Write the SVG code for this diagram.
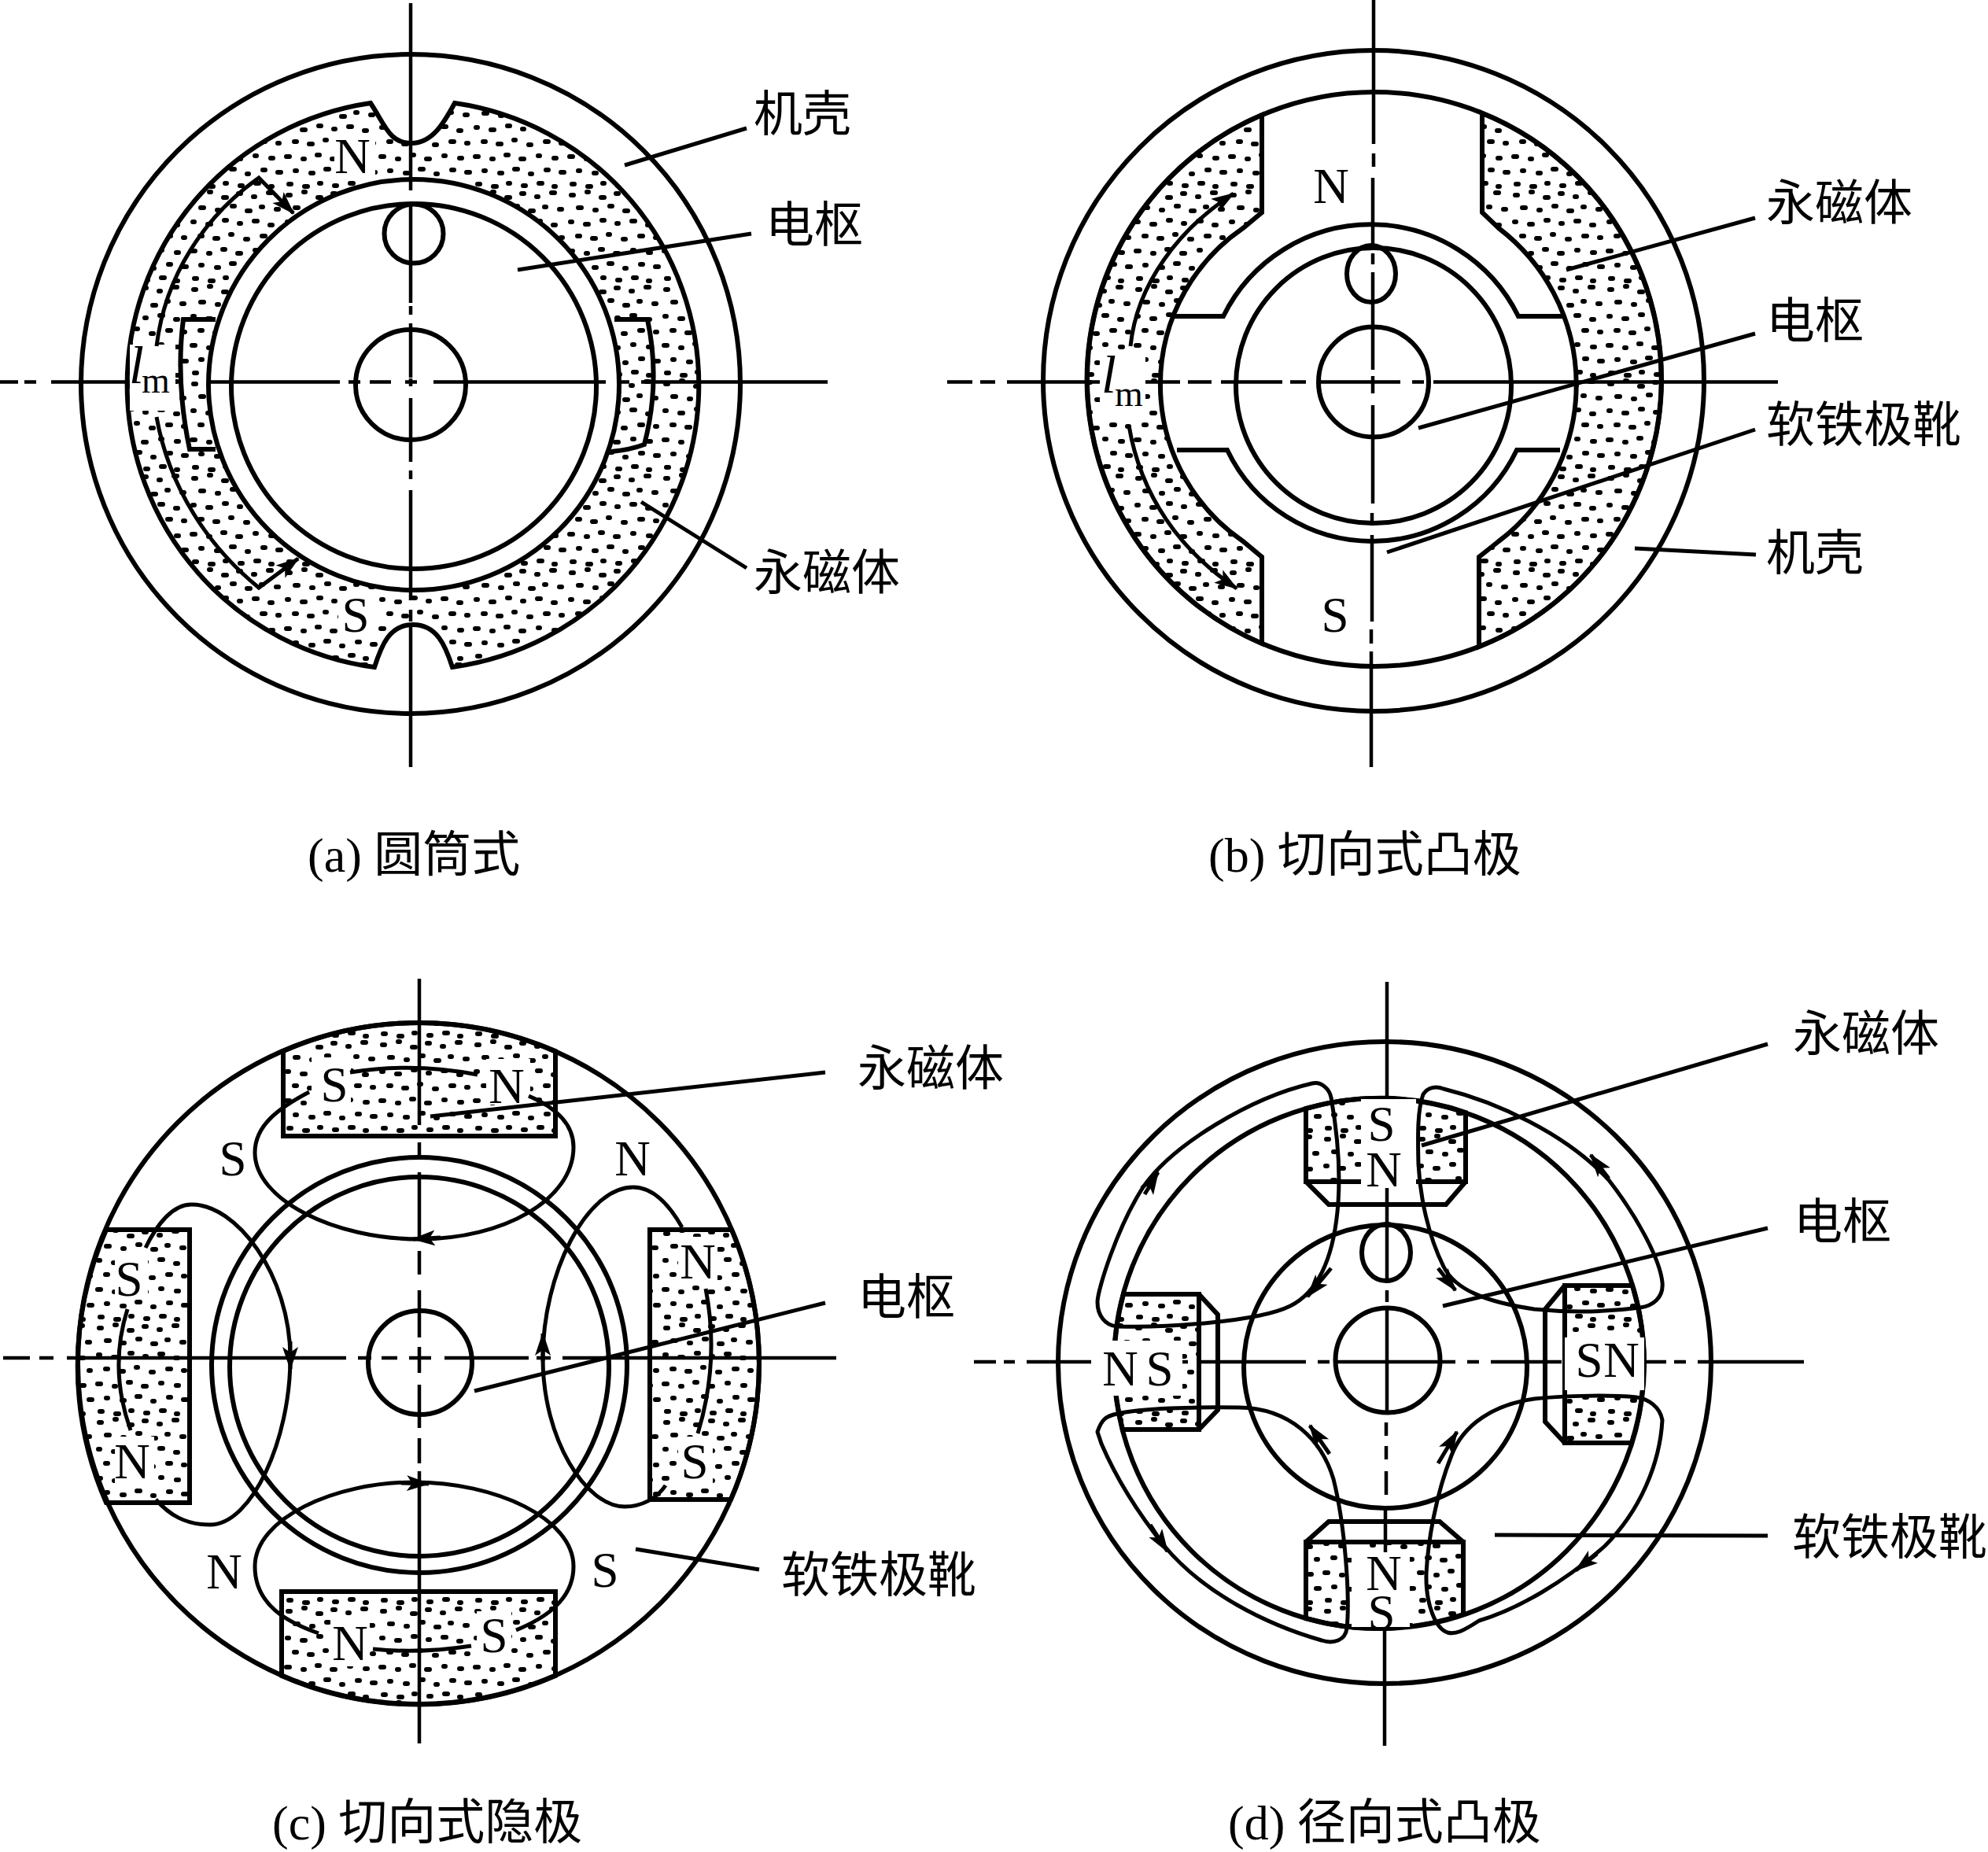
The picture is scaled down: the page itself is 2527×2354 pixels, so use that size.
<svg xmlns="http://www.w3.org/2000/svg" width="2527" height="2354" viewBox="0 0 2527 2354">
<style>
.l{fill:none;stroke:#000;stroke-width:6}
.t{fill:none;stroke:#000;stroke-width:5}
.c{fill:none;stroke:#000;stroke-width:4.500}
.s{fill:url(#dots);stroke:#000;stroke-width:6;fill-rule:evenodd}
.w{fill:#fff;stroke:none}
.lb{font-family:"Liberation Serif","Noto Sans CJK SC",serif;font-size:62px;fill:#000}
.p{font-family:"Liberation Serif",serif;font-size:63px;fill:#000;text-anchor:middle}
.i{font-style:italic;font-size:68px}
.m{font-size:46px}
</style>
<defs>
<pattern id="dots" width="120" height="120" patternUnits="userSpaceOnUse">
<path fill="none" stroke="#000" stroke-width="6" stroke-linecap="round" d="M6 8h3M26 4h2M44 11h4M63 6h3M82 10h2M101 5h4M15 24h4M36 27h2M55 22h3M74 28h4M92 23h2M111 26h3M5 42h2M24 45h4M45 40h3M64 44h2M83 41h4M103 46h3M14 60h3M33 63h4M53 58h2M72 64h3M93 60h4M113 62h2M4 79h4M25 82h2M43 77h3M62 82h4M84 78h2M104 81h3M15 97h2M35 100h3M54 95h4M74 101h2M94 96h3M113 99h4M7 114h3M27 117h4M46 113h2M65 116h3M85 113h4M104 117h2"/>
</pattern>
<marker id="a" markerUnits="userSpaceOnUse" markerWidth="32" markerHeight="24" refX="28" refY="10" orient="auto"><path d="M0 0L30 10L0 20L7 10Z" fill="#000"/></marker>
</defs>
<rect width="2527" height="2354" fill="#fff"/>

<g id="fig-a">
<circle class="l" cx="522" cy="488" r="419"/>
<path id="a-magnet" class="s" d="M578,131A362,362 0 0 1 575,848C566,820 555,794 525,794C495,794 485,820 476,848A362,362 0 0 1 471,131C490,160 495,182 523,182C550,182 565,155 578,131ZM265,489A261,261 0 1 0 787,489A261,261 0 1 0 265,489Z"/>
<circle class="l" cx="526" cy="491" r="232"/>
<circle class="l" cx="522" cy="489" r="70"/>
<circle class="l" cx="526" cy="297" r="37.5"/>
<path class="l" d="M274,406H233Q223,485 241,571H274M781,406H823Q840,485 819,565Q800,572 777,574"/>
<path class="c" d="M522,4V242M522,258V385M522,389V400M522,411V480M522,481V491M522,506V587M522,598V609M522,623V763M522,775V790M522,794V975M0,485.5H23M31,485.5H46M65,485.5H165M268,485.5H432M443,485.5H458M470,485.5H497M515,485.5H530M551,485.5H770M785,485.5H800M815,485.5H1052"/>
<rect class="w" x="425" y="176" width="52" height="52"/>
<rect class="w" x="430" y="752" width="48" height="56"/>
<rect class="w" x="165" y="438" width="58" height="84"/>
<text class="p" x="448" y="220">N</text>
<text class="p" x="452" y="803">S</text>
<text class="p" style="text-anchor:start"><tspan class="i" x="164" y="487">l</tspan><tspan class="m" x="180" y="499">m</tspan></text>
<text class="lb" x="958" y="167">机壳</text>
<text class="lb" x="973" y="308">电枢</text>
<text class="lb" x="958" y="750">永磁体</text>
<text class="lb" x="391" y="1108">(a) 圆筒式</text>
</g>

<g id="fig-b">
<circle class="l" cx="1746" cy="484" r="420"/>
<circle class="l" cx="1747" cy="482" r="365"/>
<path id="b-magnet-l" class="s" d="M1604,146V270L1580,290A241,241 0 0 0 1580,688L1604,708V818A365,365 0 0 1 1604,146Z"/>
<path id="b-magnet-r" class="s" d="M1884,144V270L1905,290A250,250 0 0 1 1905,688L1880,708V822A365,365 0 0 0 1884,144Z"/>
<circle class="l" cx="1746" cy="490" r="175"/>
<path class="l" d="M1491,402H1555A209,209 0 0 1 1930,402H1988M1496,572H1560A204,204 0 0 0 1928,572H1983"/>
<circle class="l" cx="1746" cy="485.500" r="70"/>
<ellipse class="l" cx="1743" cy="348" rx="31" ry="36"/>
<path class="c" d="M1746,0V183M1746,195V212M1745,226V310M1745,322V336M1745,346V470M1745,478V500M1745,515V640M1744,652V668M1744,680V790M1743,800V818M1743,828V975M1204,485.5H1236M1246,485.5H1265M1280,485.5H1500M1510,485.5H1540M1552,485.5H1630M1640,485.5H1660M1675,485.5H1780M1795,485.5H1810M1822,485.5H2260"/>
<rect class="w" x="1398" y="445" width="58" height="84"/>
<text class="p" x="1692" y="258">N</text>
<text class="p" x="1697" y="803">S</text>
<text class="p" style="text-anchor:start"><tspan class="i" x="1400" y="499">l</tspan><tspan class="m" x="1417" y="516">m</tspan></text>
<text class="lb" x="2245" y="280">永磁体</text>
<text class="lb" x="2245" y="430">电枢</text>
<text class="lb" x="2245" y="562">软铁极靴</text>
<text class="lb" x="2245" y="725">机壳</text>
<text class="lb" x="1536" y="1108">(b) 切向式凸极</text>
</g>

<g id="fig-c">
<circle class="l" cx="532" cy="1733" r="433"/>
<path id="c-magnet-t" class="s" d="M360,1336A433,433 0 0 1 706,1336V1444H360Z"/>
<path id="c-magnet-b" class="s" d="M358,2023H706V2130A433,433 0 0 1 358,2130Z"/>
<path id="c-magnet-l" class="s" d="M135,1563H241V1910H135A433,433 0 0 1 135,1563Z"/>
<path id="c-magnet-r" class="s" d="M826,1563H930A433,433 0 0 1 929,1906H826Z"/>
<circle class="l" cx="533" cy="1735" r="264"/>
<circle class="l" cx="533" cy="1737" r="241"/>
<circle class="l" cx="534" cy="1732" r="66"/>
<path class="c" d="M533,1244V1430M533,1452V1470M533,1490V1575M533,1590V1620M533,1640V1700M533,1712V1745M533,1760V1815M533,1828V1860M533,1870V2216M4,1726H38M50,1726H68M85,1726H440M455,1726H472M485,1726H505M520,1726H548M565,1726H672M682,1726H700M715,1726H1063"/>
<rect class="w" x="396" y="1344" width="50" height="62"/>
<rect class="w" x="618" y="1346" width="56" height="58"/>
<rect class="w" x="146" y="1590" width="42" height="58"/>
<rect class="w" x="862" y="1572" width="50" height="60"/>
<rect class="w" x="146" y="1826" width="50" height="60"/>
<rect class="w" x="862" y="1826" width="44" height="60"/>
<rect class="w" x="420" y="2060" width="50" height="58"/>
<rect class="w" x="606" y="2048" width="44" height="60"/>
<text class="p" x="425" y="1400">S</text><text class="p" x="644" y="1402">N</text>
<text class="p" x="296" y="1494">S</text><text class="p" x="804" y="1494">N</text>
<text class="p" x="887" y="1625">N</text><text class="p" x="164" y="1647">S</text>
<text class="p" x="168" y="1879">N</text><text class="p" x="883" y="1879">S</text>
<text class="p" x="285" y="2019">N</text><text class="p" x="769" y="2017">S</text>
<text class="p" x="445" y="2110">N</text><text class="p" x="628" y="2100">S</text>
<text class="lb" x="1090" y="1380">永磁体</text>
<text class="lb" x="1090" y="1671">电枢</text>
<text class="lb" x="993" y="2024">软铁极靴</text>
<text class="lb" x="346" y="2338">(c) 切向式隐极</text>
</g>

<g id="fig-d">
<ellipse class="l" cx="1760" cy="1732" rx="415" ry="408"/>
<circle class="l" cx="1753" cy="1733" r="337"/>
<path id="d-magnet-t" class="s" d="M1660,1409A337,337 0 0 1 1863,1414V1502H1660Z"/>
<path id="d-magnet-b" class="s" d="M1660,1960H1860V2052A337,337 0 0 1 1660,2057Z"/>
<path id="d-magnet-l" class="s" d="M1428,1645H1524V1817H1427A337,337 0 0 1 1428,1645Z"/>
<path id="d-magnet-r" class="s" d="M1989,1634H2075A337,337 0 0 1 2074,1834H1989Z"/>
<path class="l" d="M1660,1502L1689,1531H1838L1863,1502M1660,1960L1689,1934H1830L1860,1960M1524,1645L1548,1671V1792L1524,1817M1989,1634L1964,1664V1807L1989,1834"/>
<circle class="l" cx="1761" cy="1737" r="180"/>
<circle class="l" cx="1764" cy="1729" r="66.500"/>
<ellipse class="l" cx="1762" cy="1592" rx="31" ry="36"/>
<path class="c" d="M1763,1248V1420M1763,1510V1625M1763,1640V1655M1763,1665V1795M1762,1808V1825M1762,1838V1855M1762,1870V1900M1761,1915V1985M1760,2070V2219M1238,1731H1266M1276,1731H1290M1305,1731H1388M1503,1731H1510M1525,1731H1660M1675,1731H1690M1700,1731H1850M1865,1731H1880M1895,1731H1985M2080,1731H2118M2128,1731H2143M2158,1731H2293"/>
<rect class="w" x="1730" y="1397" width="70" height="108"/>
<rect class="w" x="1718" y="1973" width="74" height="95"/>
<rect class="w" x="1387" y="1704" width="116" height="70"/>
<rect class="w" x="1989" y="1700" width="101" height="67"/>
<text class="p"><tspan x="1756" y="1450">S</tspan><tspan x="1759" y="1508">N</tspan></text>
<text class="p"><tspan x="1759" y="2021">N</tspan><tspan x="1756" y="2071">S</tspan></text>
<text class="p" x="1424" y="1761">N</text><text class="p" x="1474" y="1761">S</text>
<text class="p" x="2020" y="1750">S</text><text class="p" x="2061" y="1750">N</text>
<text class="lb" x="2279" y="1336">永磁体</text>
<text class="lb" x="2280" y="1575">电枢</text>
<text class="lb" x="2278" y="1976">软铁极靴</text>
<text class="lb" x="1561" y="2338">(d) 径向式凸极</text>
</g>

<g id="connectors">
<g id="leaders">
<path class="t" d="M949,163L794,210M955,297L658,343M949,722L815,638"/>
<path class="t" d="M2231,277L1991,343M2231,424L1803,544M2231,546L1763,702M2232,705L2078,697"/>
<path class="t" d="M1049,1363L547,1419M1049,1656L603,1768M965,1995L808,1969"/>
<path class="t" d="M2247,1327L1807,1456M2247,1561L1834,1660M2247,1952L1900,1951"/>
</g>
<g id="dimensions">
<path class="t" marker-end="url(#a)" d="M199,440C210,350 260,275 329,226L373,271"/>
<path class="t" marker-end="url(#a)" d="M199,530C215,620 265,695 329,747L379,710"/>
<path class="t" marker-end="url(#a)" d="M1437,440C1445,360 1500,290 1568,246"/>
<path class="t" marker-end="url(#a)" d="M1435,541C1450,630 1500,700 1572,748"/>
</g>
<g id="flux-c">
<path class="t" d="M393,1388C355,1408 324,1430 324,1465C324,1525 425,1575 533,1575C640,1575 729,1525 729,1458C729,1425 700,1405 672,1393M445,1363Q526,1350 607,1366"/>
<path class="t" d="M405,2076C365,2062 324,2040 324,1991C324,1930 425,1884 526,1884C630,1884 729,1930 729,1991C729,2035 690,2058 656,2072M474,2096Q535,2102 599,2092"/>
<path class="t" d="M185,1586C200,1555 220,1531 243,1531C300,1530 369,1620 369,1726C369,1830 320,1938 267,1938C235,1938 215,1925 198,1906M162,1664Q138,1740 166,1818"/>
<path class="t" d="M867,1560C850,1530 830,1509 805,1509C745,1509 690,1620 690,1726C690,1830 745,1915 794,1915C815,1915 835,1905 846,1888M897,1638Q915,1730 887,1822"/>
<path class="t" marker-end="url(#a)" d="M560,1573L525,1575"/>
<path class="t" marker-end="url(#a)" d="M510,1885L545,1886"/>
<path class="t" marker-end="url(#a)" d="M369,1705L369,1740"/>
<path class="t" marker-end="url(#a)" d="M690,1730L690,1695"/>
</g>
<g id="flux-d">
<path class="t" d="M1395,1655C1395,1640 1420,1560 1453,1509C1490,1455 1590,1395 1668,1377C1680,1374 1690,1385 1692,1395C1700,1440 1705,1490 1700,1540C1695,1590 1680,1640 1640,1660C1600,1680 1480,1688 1420,1686C1405,1685 1395,1672 1395,1655Z"/>
<path class="t" d="M1809,1391C1815,1382 1825,1380 1835,1384C1900,1400 1990,1440 2045,1500C2080,1545 2110,1600 2113,1630C2115,1650 2100,1660 2085,1662C2040,1668 1990,1668 1950,1664C1890,1655 1850,1640 1835,1610C1815,1570 1805,1520 1803,1480C1802,1440 1802,1410 1809,1391Z"/>
<path class="t" d="M1395,1820C1400,1805 1405,1800 1420,1797C1450,1790 1520,1788 1575,1789C1640,1790 1680,1830 1695,1880C1710,1940 1716,2030 1712,2070C1710,2085 1695,2090 1680,2085C1610,2065 1530,2025 1480,1965C1440,1915 1415,1870 1400,1835Z"/>
<path class="t" d="M2113,1805C2110,1788 2095,1778 2080,1776C2040,1772 1975,1775 1950,1778C1900,1785 1860,1810 1845,1850C1825,1900 1815,1960 1813,2000C1812,2040 1825,2070 1840,2075C1850,2078 1860,2073 1880,2060C1930,2045 1990,2010 2040,1965C2085,1920 2110,1860 2113,1805Z"/>
<path class="t" marker-end="url(#a)" d="M1455,1518L1472,1490"/>
<path class="t" marker-end="url(#a)" d="M2045,1498L2022,1468"/>
<path class="t" marker-end="url(#a)" d="M1462,1938L1484,1972"/>
<path class="t" marker-end="url(#a)" d="M2030,1975L2003,1996"/>
<path class="t" marker-end="url(#a)" d="M1692,1612L1662,1648"/>
<path class="t" marker-end="url(#a)" d="M1828,1612L1850,1640"/>
<path class="t" marker-end="url(#a)" d="M1690,1848L1665,1812"/>
<path class="t" marker-end="url(#a)" d="M1828,1860L1852,1820"/>
</g>
</g>
</svg>
